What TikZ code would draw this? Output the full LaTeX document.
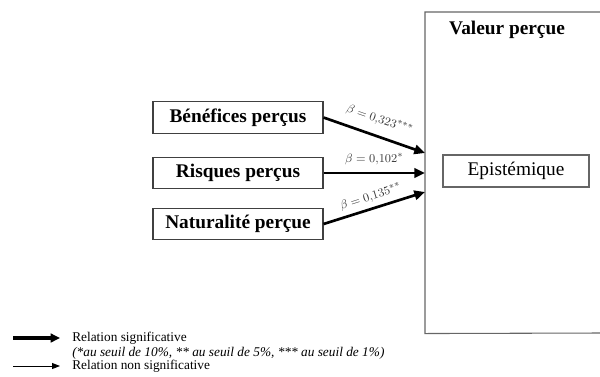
\documentclass[tikz,border=0pt]{standalone}
\usepackage{fontspec}
\setmainfont{Liberation Serif}
\usetikzlibrary{arrows.meta}
\begin{document}
\begin{tikzpicture}[x=0.75pt,y=-0.75pt,
  factor/.style={draw=black!75, line width=0.8pt, minimum width=127.5pt, minimum height=23.5pt, inner sep=0pt,
    font=\fontsize{14.5}{17}\selectfont\bfseries},
  inbox/.style={draw=black!60, line width=0.8pt, minimum width=109.5pt, minimum height=24pt, inner sep=0pt,
    font=\fontsize{14.5}{17}\selectfont},
  frame/.style={draw=black!60, line width=0.8pt},
  sig/.style={line width=2pt, -{Triangle[length=8pt,width=7pt]}},
  legsig/.style={line width=2.4pt, -{Triangle[length=7pt,width=6.5pt]}},
  nonsig/.style={line width=0.7pt, -{Triangle[length=6pt,width=4.5pt]}},
  beta/.style={font=\fontsize{9.5}{10}\selectfont, text=black!78, inner sep=0pt, sloped},
  legend/.style={anchor=west, inner sep=0pt, font=\fontsize{10}{12}\selectfont}]
\useasboundingbox (0,0) rectangle (600,376);
% outer box (its right side lies beyond the picture)
\node[minimum width=165pt, minimum height=240.75pt, inner sep=0pt, anchor=north west] (vp) at (425,12) {};
\draw[frame] (600,12) -- (vp.north west) -- (vp.south west) -- (600,333);
\node[font=\fontsize{14.5}{17}\selectfont\bfseries] (vt) at (507,30) {Valeur perçue};
\node[inbox] (ep) at (516,171) {Epistémique};
% factors
\node[factor] (b) at (238,117.5) {Bénéfices perçus};
\node[factor] (r) at (238,173) {Risques perçus};
\node[factor] (n) at (238,224) {Naturalité perçue};
\coordinate (e1) at (425,153);
\coordinate (e2) at (425,173);
\coordinate (e3) at (425,192);
\draw[sig] (b.east) -- (e1) node[beta, midway, above=7pt] {$\beta = 0{,}323^{***}$};
\draw[sig] (r.east) -- (e2) node[beta, midway, above=5pt] {$\beta = 0{,}102^{*}$};
\draw[sig] (n.east) -- (e3) node[beta, midway, above=3.5pt] {$\beta = 0{,}135^{**}$};
% legend
\node[legend] (lt1) at (72,338) {Relation significative};
\node[legend, font=\fontsize{10}{12}\selectfont\itshape] (lt2) at (72,353) {(*au seuil de 10\%, ** au seuil de 5\%, *** au seuil de 1\%)};
\node[legend] (lt3) at (72,366) {Relation non significative};
\coordinate (la1) at (13,338);
\coordinate (lb1) at (60,338);
\coordinate (la2) at (13,366);
\coordinate (lb2) at (60,366);
\draw[legsig] (la1) -- (lb1);
\draw[nonsig] (la2) -- (lb2);
\end{tikzpicture}
\end{document}
